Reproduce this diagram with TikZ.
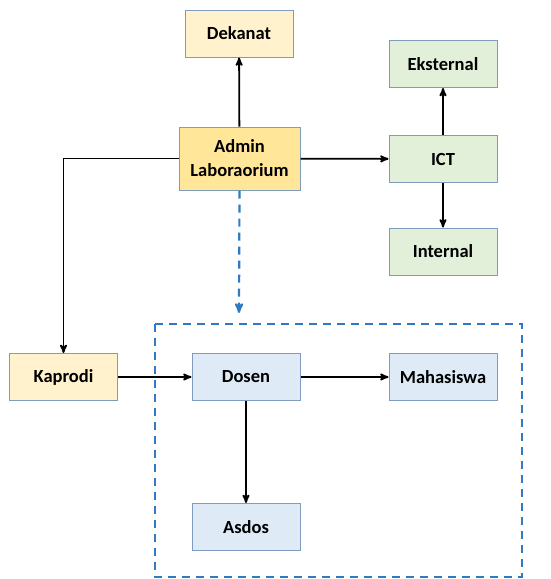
\documentclass[tikz,border=0pt]{standalone}
\usepackage{fontspec}
\setmainfont{Carlito}
\usepackage{xcolor}
\usepackage{tikz}
\usetikzlibrary{calc}
\usetikzlibrary{arrows}
\usetikzlibrary{positioning}
\definecolor{rim}{HTML}{7F9CC0}
\definecolor{kuning}{HTML}{FFF2CC}
\definecolor{emas}{HTML}{FFE699}
\definecolor{hijau}{HTML}{E2F0D9}
\definecolor{biru}{HTML}{DEEBF7}
\definecolor{garis}{HTML}{2E7BC4}
\tikzset{
  unit/.style={draw=rim, line width=1pt, minimum width=108pt, minimum height=47pt, inner sep=0pt,
    align=center, font=\fontsize{18.5}{24}\selectfont\bfseries},
  alur/.style={black, line width=1.8pt, ->, >=stealth'},
  putus/.style={garis, line width=2.2pt, dash pattern=on 8pt off 6pt}
}

\begin{document}
\begin{tikzpicture}[x=1pt, y=-1pt]
\useasboundingbox (0,0) rectangle (550,579);
\node[unit, fill=kuning] (dekanat) at (239,33.5) {Dekanat};
\node[unit, fill=emas, minimum width=121pt, minimum height=63pt] (admin) at (239.5,158.5) {Admin\\Laboraorium};
\node[unit, fill=hijau] (ict) at (443,159) {ICT};
\node[unit, fill=hijau] (eksternal) at (443,64) {Eksternal};
\node[unit, fill=hijau] (internal) at (443,251.5) {Internal};
\node[unit, fill=kuning] (kaprodi) at (63.5,377) {Kaprodi};
\node[unit, fill=biru] (dosen) at (246,377) {Dosen};
\node[unit, fill=biru] (mahasiswa) at (443,377) {Mahasiswa};
\node[unit, fill=biru] (asdos) at (246,527) {Asdos};
\draw[putus] (155,324) rectangle (522,577);
\coordinate (grup) at (239,313);
\draw[alur] (admin) -- (dekanat);
\draw[alur] (admin) -- (ict);
\draw[alur] (ict) -- (eksternal);
\draw[alur] (ict) -- (internal);
\draw[alur] (admin.west) -| (kaprodi.north);
\draw[alur] (kaprodi) -- (dosen);
\draw[alur] (dosen) -- (mahasiswa);
\draw[alur] (dosen) -- (asdos);
\draw[putus, ->, >=stealth'] (admin.south) -- (grup);
\end{tikzpicture}
\end{document}
